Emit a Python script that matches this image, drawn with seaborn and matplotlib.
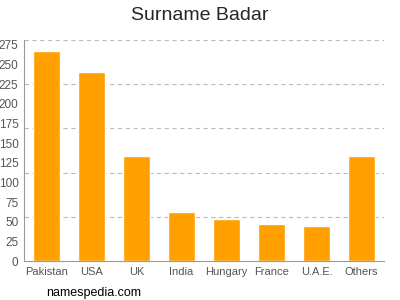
import matplotlib
matplotlib.use("Agg")
import matplotlib.pyplot as plt
import seaborn as sns
import pandas as pd

countries = ["Pakistan", "USA", "UK", "India", "Hungary", "France", "U.A.E.", "Others"]
counts = [267, 241, 133, 62, 54, 47, 44, 133]
yticks = list(range(0, 276, 25))
grid_vals = [56.25, 112.5, 168.75, 225, 281.25]

sns.set_style("white")
plt.rcParams['font.family'] = ['Liberation Sans', 'DejaVu Sans']

df = pd.DataFrame({"country": countries, "count": counts})
fig = plt.figure(figsize=(4, 3), dpi=100)
ax = fig.add_axes([0.06, 0.13, 0.90, 0.737])
sns.barplot(data=df, x="country", y="count", color="#FFA000", saturation=1,
            width=0.62, ax=ax)
for g in grid_vals:
    ax.axhline(g, color="#BBBBBB", lw=0.8, ls=(0, (4, 3)), zorder=0)
ax.set_ylim(0, 281.25)
ax.set_xlim(-0.5, len(countries) - 0.5)
ax.set_yticks(yticks)
ax.set_xlabel("")
ax.set_ylabel("")
for s in ["top", "right"]:
    ax.spines[s].set_visible(False)
for s in ["left", "bottom"]:
    ax.spines[s].set_color("#999999")
    ax.spines[s].set_linewidth(0.8)
ax.tick_params(axis="both", colors="#999999", labelcolor="#555555", labelsize=8,
               length=3, width=0.8, pad=1)
ax.tick_params(axis="y", labelsize=8.5)
fig.text(0.5, 0.95, "Surname Badar", fontsize=14, ha="center", va="center")
fig.text(0.115, 0.012, "namespedia.com", fontsize=9, color="black")
fig.savefig("out.png", dpi=100)
